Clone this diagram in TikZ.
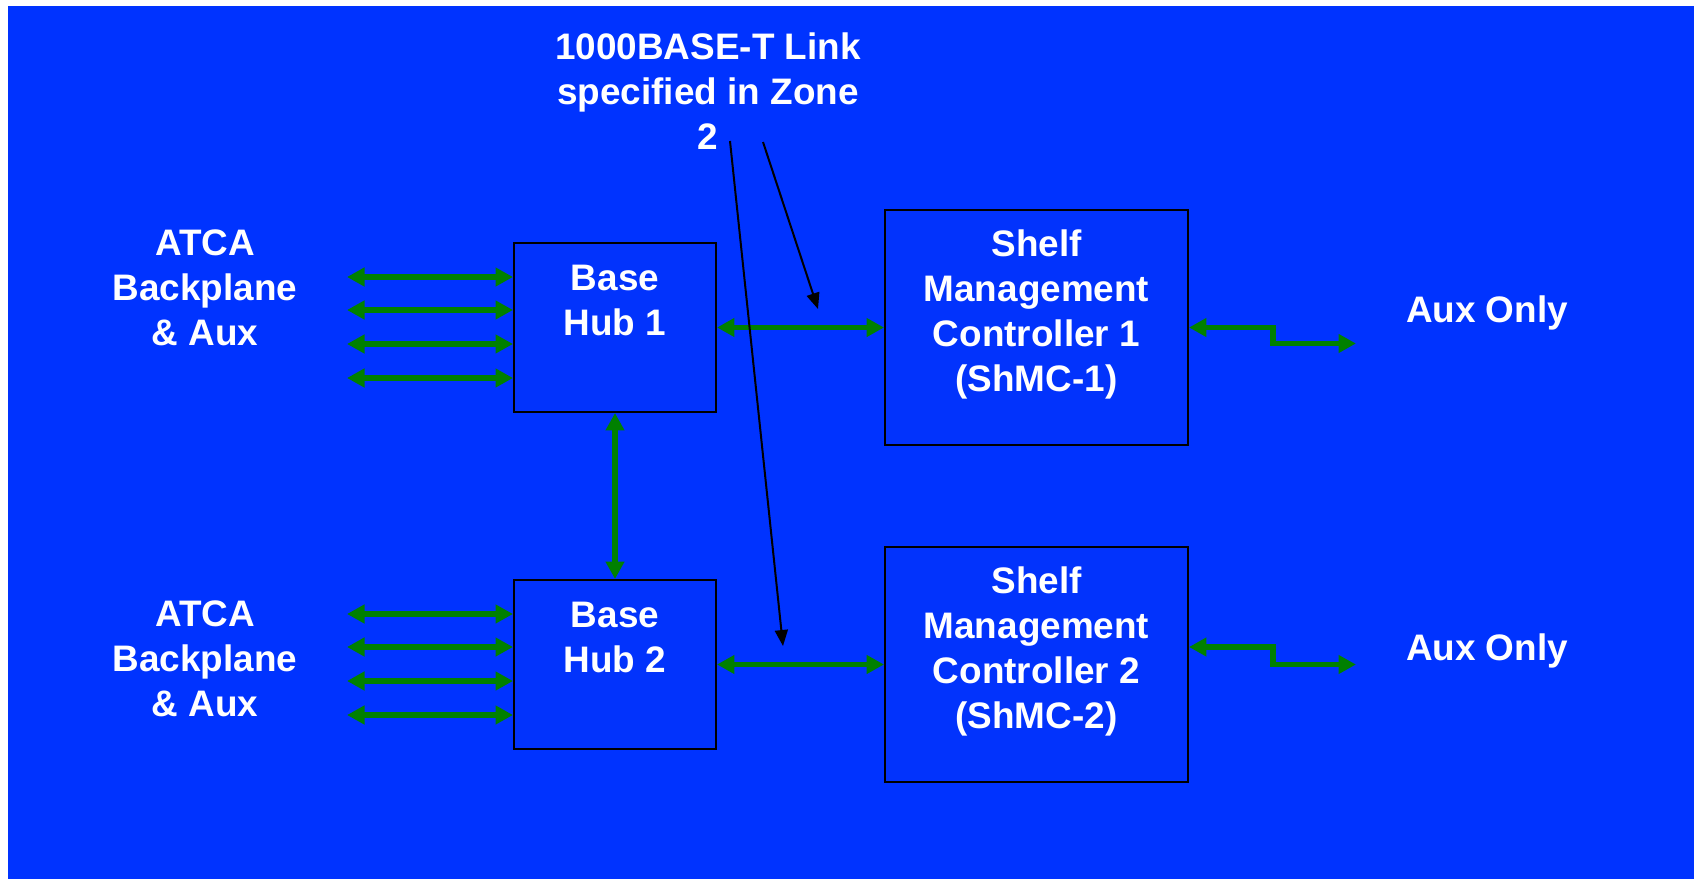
\documentclass[tikz,border=0pt]{standalone}
\usepackage{fontspec}
\setmainfont{Liberation Sans}
\usepackage{tikz}
\usetikzlibrary{arrows.meta, positioning, calc}
\definecolor{slideblue}{RGB}{0, 51, 255}
\definecolor{boxblue}{RGB}{2, 51, 252}
\definecolor{linkgreen}{RGB}{0, 128, 0}

\tikzset{
    txt/.style={text=white, align=center, font=\bfseries\fontsize{21pt}{25.6pt}\selectfont, inner sep=0pt},
    unit/.style={draw=black, line width=0.04cm, fill=boxblue, inner sep=0pt},
    hubbox/.style={unit, minimum width=4.04cm, minimum height=3.38cm},
    shmcbox/.style={unit, minimum width=6.06cm, minimum height=4.7cm},
    link/.style={linkgreen, line width=0.11cm, {Triangle[length=0.35cm,width=0.36cm]}-{Triangle[length=0.35cm,width=0.36cm]}},
    pointer/.style={black, line width=0.04cm, -{Triangle[length=0.32cm,width=0.26cm]}}
}

\begin{document}
\begin{tikzpicture}[x=0.02cm, y=-0.02cm]
    \useasboundingbox (0,0) rectangle (1694,879);
    \fill[slideblue] (8,6) rectangle (1694,879);

    % Boxes
    \node[hubbox] (hub1) at (615,327.5) {};
    \node[hubbox] (hub2) at (615,664.5) {};
    \node[shmcbox] (shmc1) at (1036.5,327.5) {};
    \node[shmcbox] (shmc2) at (1036.5,664.5) {};

    % Texts
    \node[txt] (hub1txt) at (615,300.5) {Base\\Hub 1};
    \node[txt] (hub2txt) at (615,637.5) {Base\\Hub 2};
    \node[txt] (shmc1txt) at (1036.5,314.5) {Shelf\\Management\\Controller 1\\(ShMC-1)};
    \node[txt] (shmc2txt) at (1036.5,651.5) {Shelf\\Management\\Controller 2\\(ShMC-2)};
    \node[txt] (atca1) at (205,288) {ATCA\\Backplane\\\& Aux};
    \node[txt] (atca2) at (205,659) {ATCA\\Backplane\\\& Aux};
    \node[txt] (aux1) at (1487,313) {Aux Only};
    \node[txt] (aux2) at (1487,651) {Aux Only};
    \node[txt] (note) at (708,91) {1000BASE-T Link\\specified in Zone\\2};

    % Backplane links
    \foreach \y [count=\i] in {277,310,344,378} {
        \coordinate (bp1\i) at (347,\y);
        \draw[link] (bp1\i) -- (bp1\i -| hub1.west);
    }
    \foreach \y [count=\i] in {614,647,681,715} {
        \coordinate (bp2\i) at (347,\y);
        \draw[link] (bp2\i) -- (bp2\i -| hub2.west);
    }

    % Hub links
    \draw[link] (hub1) -- (shmc1);
    \draw[link] (hub2) -- (shmc2);
    \draw[link] (hub1.south) -- (hub2.north);

    % Aux links
    \coordinate (aux1end) at (1356,343.5);
    \coordinate (aux2end) at (1356,664.5);
    \draw[link] (shmc1.east) -- (1273,327.5) |- (aux1end);
    \draw[link] (shmc2.east |- 0,647) -- (1273,647) |- (aux2end);

    % Callout
    \coordinate (p1) at (763,142);
    \coordinate (p2) at (730,141);
    \draw[pointer] (p1) -- (818,309);
    \draw[pointer] (p2) -- (783,646);
\end{tikzpicture}
\end{document}
